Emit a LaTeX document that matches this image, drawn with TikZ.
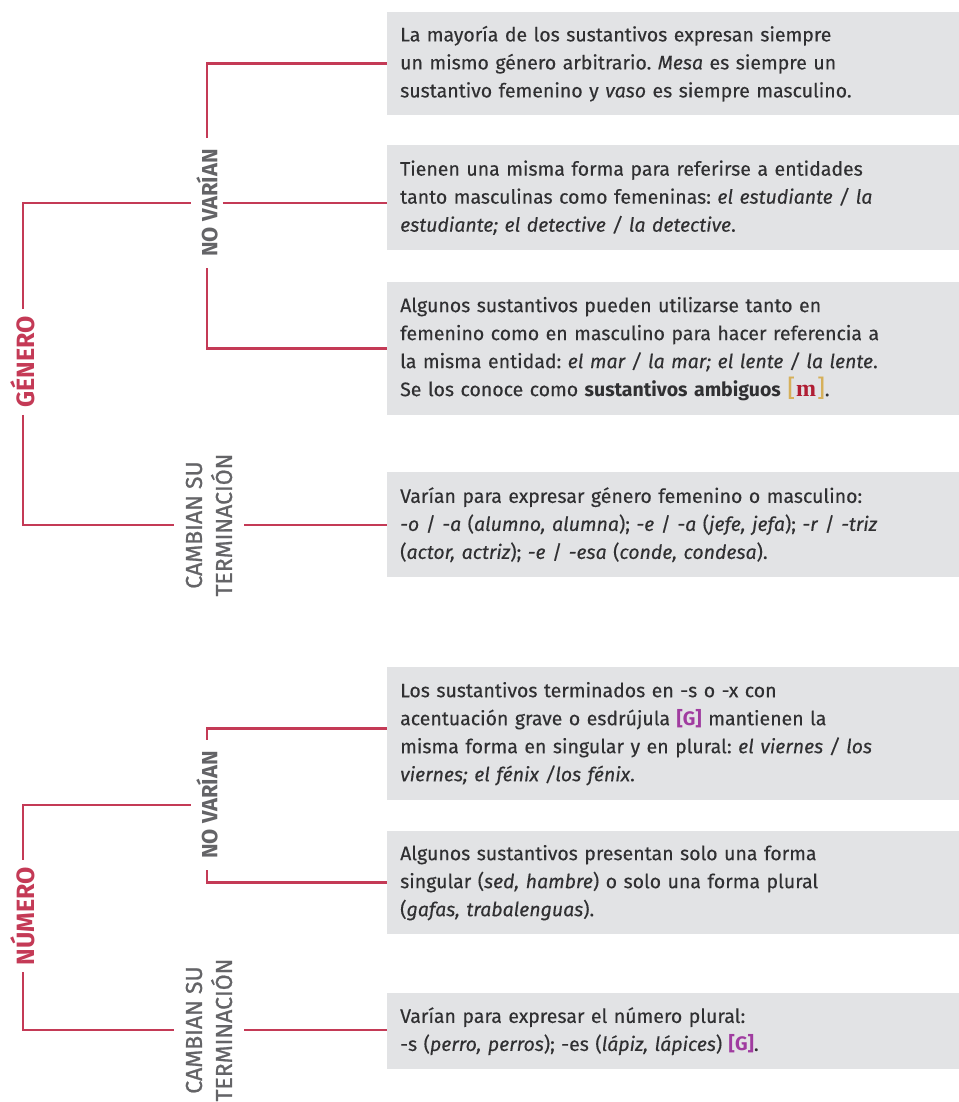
\documentclass[tikz,border=0pt]{standalone}
\usepackage{fontspec}
\setmainfont{Fira Sans}[UprightFeatures={FakeBold=0.3}, ItalicFeatures={FakeBold=0.3}]
\newfontfamily\labfont{Fira Sans}[UprightFeatures={FakeBold=0.9}]
\newfontfamily\mserif{Liberation Serif}
\definecolor{boxgray}{RGB}{226,227,229}
\definecolor{txtgray}{RGB}{48,48,50}
\definecolor{linered}{RGB}{196,58,86}
\definecolor{labgray}{RGB}{100,100,103}
\definecolor{gold}{RGB}{214,176,90}
\definecolor{mred}{RGB}{176,30,52}
\definecolor{gpurple}{RGB}{160,60,160}
\newcommand{\gref}{{\color{gpurple}\bfseries[G]}}
\newcommand{\mref}{{\fontsize{24}{24}\selectfont\color{gold}[\hspace{1pt}}{\mserif\fontsize{24}{24}\selectfont\bfseries\color{mred}m}{\fontsize{24}{24}\selectfont\color{gold}\hspace{1pt}]}}
\frenchspacing
\begin{document}
\begin{tikzpicture}[x=1pt,y=-1pt,
  box/.style={fill=boxgray, anchor=north west, inner xsep=13pt, inner ysep=0pt,
    text width=560pt, align=left, text=txtgray,
    font=\fontsize{19.5}{28}\selectfont\frenchspacing},
  conn/.style={draw=linered, line width=2.6pt},
  cat/.style={rotate=90, text=linered, inner xsep=7pt, inner ysep=4pt,
    font=\fontsize{25}{28}\selectfont\bfseries},
  sub/.style={rotate=90, text=labgray, inner xsep=11pt, inner ysep=5pt,
    font=\fontsize{22}{24}\selectfont\bfseries},
  sub2/.style={rotate=90, text=labgray, inner xsep=6pt, inner ysep=12pt, align=center,
    font=\labfont\fontsize{23}{30}\selectfont}
]
\useasboundingbox (0,0) rectangle (958,1102);
\fill[white] (0,0) rectangle (958,1102);

% boxes
\node[box, minimum height=103pt] (b1) at (387,12) {La mayoría de los sustantivos expresan siempre\\ un mismo género arbitrario. \textit{Mesa} es siempre un\\ sustantivo femenino y \textit{vaso} es siempre masculino.};
\node[box, minimum height=105pt] (b2) at (387,145) {Tienen una misma forma para referirse a entidades\\ tanto masculinas como femeninas: \textit{el estudiante / la}\\ \textit{estudiante; el detective / la detective}.};
\node[box, minimum height=133pt] (b3) at (387,282) {Algunos sustantivos pueden utilizarse tanto en\\ femenino como en masculino para hacer referencia a\\ la misma entidad: \textit{el mar / la mar; el lente / la lente}.\\ Se los conoce como \textbf{sustantivos ambiguos} \mref.};
\node[box, minimum height=105pt] (b4) at (387,472) {Varían para expresar género femenino o masculino:\\ \textit{-o} / \textit{-a} (\textit{alumno, alumna}); \textit{-e} / \textit{-a} (\textit{jefe, jefa}); \textit{-r} / \textit{-triz}\\ (\textit{actor, actriz}); \textit{-e} / \textit{-esa} (\textit{conde, condesa}).};
\node[box, minimum height=133pt] (b5) at (387,667) {Los sustantivos terminados en -s o -x con\\ acentuación grave o esdrújula \gref{} mantienen la\\ misma forma en singular y en plural: \textit{el viernes / los}\\ \textit{viernes; el fénix /los fénix}.};
\node[box, minimum height=103pt] (b6) at (387,831) {Algunos sustantivos presentan solo una forma\\ singular (\textit{sed, hambre}) o solo una forma plural\\ (\textit{gafas, trabalenguas}).};
\node[box, minimum height=76pt] (b7) at (387,993) {Varían para expresar el número plural:\\ -s (\textit{perro, perros}); -es (\textit{lápiz, lápices}) \gref.};

% GÉNERO
\node[cat] (gen) at (23,362) {GÉNERO};
\node[sub] (gnv) at (207,203) {NO VARÍAN};
\node[sub2] (gct) at (209,525) {CAMBIAN SU\\TERMINACIÓN};
\draw[conn] (gen.east) |- (gnv.north);
\draw[conn] (gen.west) |- (gct.north);
\draw[conn] (gnv.south) -- (gnv.south -| b2.west);
\draw[conn] (gnv.east) |- (b1.west);
\draw[conn] (gnv.west) |- (b3.west);
\draw[conn] (gct.south) -- (gct.south -| b4.west);

% NÚMERO
\node[cat] (num) at (23,916) {NÚMERO};
\node[sub] (nnv) at (207,805) {NO VARÍAN};
\node[sub2] (nct) at (209,1030) {CAMBIAN SU\\TERMINACIÓN};
\draw[conn] (num.east) |- (nnv.north);
\draw[conn] (num.west) |- (nct.north);
\draw[conn] (nnv.east) |- ([yshift=5.5pt]b5.west);
\draw[conn] (nnv.west) |- (b6.west);
\draw[conn] (nct.south) -- (nct.south -| b7.west);
\end{tikzpicture}
\end{document}
